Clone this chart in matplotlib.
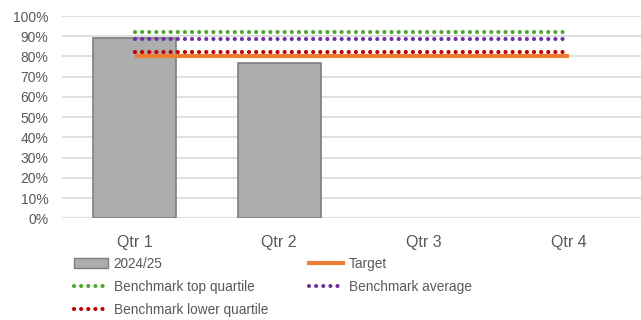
import numpy as np
import matplotlib.pyplot as plt
from matplotlib.patches import Patch
from matplotlib.lines import Line2D

quarters = ['Qtr 1', 'Qtr 2', 'Qtr 3', 'Qtr 4']
actual = [0.89, 0.77, np.nan, np.nan]
target = [0.80, 0.80, 0.80, 0.80]
bench_top = [0.92, 0.92, 0.92, 0.92]
bench_avg = [0.885, 0.885, 0.885, 0.885]
bench_low = [0.82, 0.82, 0.82, 0.82]

plt.rcParams['font.family'] = ['Liberation Sans', 'DejaVu Sans']
grey_txt = '#595959'

fig = plt.figure(figsize=(6.41, 3.2), dpi=100)
ax = fig.add_axes([0.097, 0.318, 0.903, 0.632])

x = np.arange(len(quarters))
dot = (0, (0.01, 1.7))
ax.bar(x, actual, width=0.575, color='#ADADAD', edgecolor='#7F7F7F', linewidth=1.2, zorder=2)
ax.plot(x, target, color='#ED7D31', lw=3, solid_capstyle='butt', zorder=3)
for vals, col in [(bench_top, '#4EA72E'), (bench_avg, '#7030A0'), (bench_low, '#C00000')]:
    ax.plot(x, vals, color=col, lw=3, ls=dot, dash_capstyle='round', zorder=4)

ax.set_xlim(-0.5, 3.5)
ax.set_ylim(0, 1.0)
ax.set_yticks(np.arange(0, 1.01, 0.1))
ax.set_yticklabels([f'{int(round(v * 100))}%' for v in np.arange(0, 1.01, 0.1)])
ax.set_xticks(x)
ax.set_xticklabels(quarters, fontsize=11.5)
ax.tick_params(axis='y', length=0, pad=10, labelsize=10, labelcolor=grey_txt)
ax.tick_params(axis='x', length=0, pad=12, labelcolor=grey_txt)
ax.grid(axis='y', color='#D9D9D9', lw=1.2, zorder=0)
for s in ax.spines.values():
    s.set_visible(False)

handles = [
    Patch(facecolor='#ADADAD', edgecolor='#7F7F7F', label='2024/25'),
    Line2D([], [], color='#4EA72E', lw=3, ls=dot, dash_capstyle='round', label='Benchmark top quartile'),
    Line2D([], [], color='#C00000', lw=3, ls=dot, dash_capstyle='round', label='Benchmark lower quartile'),
    Line2D([], [], color='#ED7D31', lw=3, label='Target'),
    Line2D([], [], color='#7030A0', lw=3, ls=dot, dash_capstyle='round', label='Benchmark average'),
]
leg = fig.legend(handles=handles, ncol=2, loc='upper left', bbox_to_anchor=(0.115, 0.197),
                 frameon=False, fontsize=9.8, handlelength=2.5, handletextpad=0.45,
                 columnspacing=3.0, labelspacing=0.65, borderaxespad=0, borderpad=0)
for t in leg.get_texts():
    t.set_color(grey_txt)

fig.savefig('out.png', dpi=100)
